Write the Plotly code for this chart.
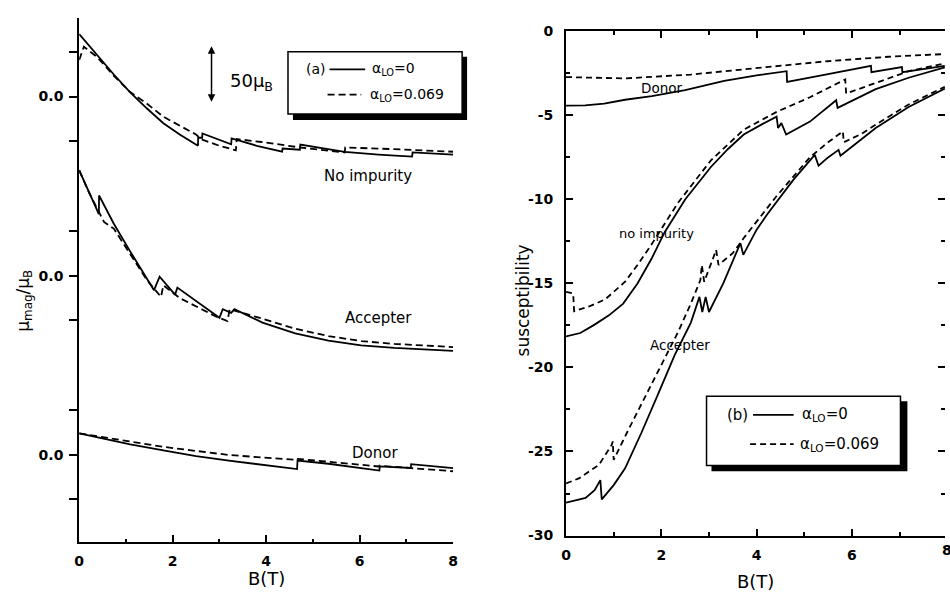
import plotly.graph_objects as go

W, H = 950, 599
FONT = "DejaVu Sans"

# ---------------- Panel (a): magnetic moment (muB, relative to each curve's 0.0) ----------------
A_OFFSETS = {"noimp": 0, "accepter": -160, "donor": -320}
A_YTICKS = [40, 0, -40, -120, -160, -200, -280, -320, -360]
A_YTICKTEXT = [" ", "0.0", " ", " ", "0.0", " ", " ", "0.0", " "]

a_noimp_solid_B = [0, 0.2, 0.39, 0.74, 1.09, 1.45, 1.8, 2.15, 2.54, 2.545, 2.63, 2.635, 3.25, 3.26, 3.8,
                   4.34, 4.35, 4.72, 4.73, 5.68, 6.4, 7.12, 7.13, 8.0]
a_noimp_solid_m = [55.9, 46.0, 37.0, 19.7, 3.8, -10.7, -23.8, -33.9, -44.0, -36.8, -36.8, -33.0, -42.6, -37.4, -44.0,
                   -49.3, -46.4, -47.5, -42.9, -49.5, -51.8, -53.6, -49.9, -51.9]
a_noimp_dash_B = [0, 0.1, 0.39, 0.74, 1.09, 1.45, 1.8, 2.15, 2.5, 2.6, 3.0, 3.35, 3.37, 3.9, 4.73, 5.68, 5.69, 6.74, 8.0]
a_noimp_dash_m = [32.8, 44.5, 35.0, 18.5, 4.0, -6.4, -18.0, -26.0, -33.9, -38.0, -44.0, -48.0, -38.0, -40.6, -45.5,
                  -49.9, -45.5, -47.0, -49.3]

a_acc_solid_B = [0, 0.2, 0.42, 0.425, 0.74, 1.09, 1.45, 1.6, 1.72, 2.05, 2.1, 2.5, 3.0, 3.07, 3.25, 3.32, 3.92,
                 4.62, 5.33, 6.03, 6.74, 8.0]
a_acc_solid_m = [94.2, 75.0, 55.0, 71.6, 46.4, 21.7, -2.9, -13.0, -0.9, -17.0, -10.7, -23.0, -37.7, -29.9, -33.3,
                 -29.9, -42.0, -51.6, -58.0, -62.3, -64.6, -67.2]
a_acc_dash_B = [0, 0.2, 0.42, 0.53, 0.74, 1.09, 1.45, 1.75, 1.8, 2.15, 2.9, 3.17, 3.22, 3.92, 4.62, 5.33, 6.03, 6.74, 8.0]
a_acc_dash_m = [94.0, 75.0, 57.0, 48.0, 42.0, 19.0, -4.0, -19.0, -8.7, -20.0, -36.0, -40.6, -30.0, -38.5, -47.5,
                -54.0, -58.5, -61.0, -63.8]

a_don_solid_B = [0, 0.5, 1.09, 1.8, 2.5, 3.2, 3.92, 4.66, 4.67, 5.33, 6.42, 6.43, 7.09, 7.1, 8.0]
a_don_solid_m = [19.1, 14.7, 9.3, 3.8, -1.2, -5.3, -9.0, -12.8, -5.2, -8.1, -14.2, -10.4, -11.9, -8.4, -11.9]
a_don_dash_B = [0, 0.6, 1.8, 3.21, 4.62, 4.64, 4.8, 6.03, 6.4, 6.42, 7.44, 8.0]
a_don_dash_m = [19.1, 15.0, 7.0, -0.3, -4.6, -3.6, -4.2, -9.0, -10.5, -9.8, -12.8, -14.8]

# ---------------- Panel (b): susceptibility ----------------
b_don_solid_B = [0, 0.4, 0.8, 1.24, 1.8, 2.5, 3.32, 4.0, 4.63, 4.64, 5.39, 6.4, 6.41, 7.05, 7.06, 7.95]
b_don_solid_chi = [-4.42, -4.40, -4.30, -4.07, -3.85, -3.50, -2.95, -2.62, -2.37, -3.01, -2.60, -2.05, -2.43,
                   -2.12, -2.43, -2.05]
b_don_dash_B = [0, 0.6, 1.24, 2.62, 4.0, 5.39, 6.77, 7.95]
b_don_dash_chi = [-2.72, -2.78, -2.80, -2.57, -2.18, -1.80, -1.51, -1.35]

b_noimp_solid_B = [0, 0.3, 0.6, 0.9, 1.2, 1.5, 1.8, 2.07, 2.5, 3.04, 3.4, 3.73, 4.1, 4.42, 4.45, 4.52, 4.62,
                   5.12, 5.67, 5.7, 6.5, 7.19, 7.95]
b_noimp_solid_chi = [-18.15, -17.95, -17.45, -16.9, -16.2, -15.0, -13.5, -11.95, -10.0, -8.07, -7.0, -6.14, -5.55,
                     -5.08, -5.75, -5.46, -6.14, -5.37, -4.10, -4.55, -3.44, -2.76, -2.15]
b_noimp_dash_B = [0, 0.15, 0.17, 0.5, 0.82, 1.24, 1.5, 1.79, 2.35, 3.04, 3.73, 4.42, 5.12, 5.86, 5.88, 6.5, 7.19, 7.95]
b_noimp_dash_chi = [-15.5, -15.6, -16.65, -16.35, -15.95, -14.9, -13.9, -12.7, -10.2, -7.68, -5.85, -4.79, -3.92,
                    -2.86, -3.7, -3.05, -2.37, -1.9]

b_acc_solid_B = [0, 0.41, 0.6, 0.72, 0.75, 1.0, 1.24, 1.58, 1.93, 2.28, 2.62, 2.8, 2.86, 2.93, 3.0, 3.3, 3.66,
                 3.72, 4.0, 4.22, 4.77, 5.22, 5.3, 5.5, 5.72, 5.76, 6.5, 7.19, 7.95]
b_acc_solid_chi = [-28.05, -27.76, -27.3, -26.7, -27.85, -27.0, -26.0, -23.9, -21.6, -19.27, -17.33, -15.8, -16.7,
                   -15.8, -16.7, -15.0, -12.6, -13.3, -11.8, -10.9, -8.84, -7.35, -8.0, -7.5, -7.05, -7.4, -5.75,
                   -4.5, -3.4]
b_acc_dash_B = [0, 0.27, 0.69, 0.96, 0.98, 1.0, 1.31, 1.66, 2.07, 2.35, 2.62, 2.82, 2.85, 2.9, 3.1, 3.15, 3.2, 3.5,
                3.73, 4.0, 4.42, 5.12, 5.5, 5.81, 5.83, 6.2, 6.5, 7.19, 7.95]
b_acc_dash_chi = [-26.9, -26.6, -25.8, -24.6, -24.4, -25.5, -23.7, -21.77, -19.46, -17.9, -16.2, -14.8, -13.9,
                  -14.9, -13.4, -13.0, -13.9, -13.2, -12.3, -11.3, -9.8, -7.49, -6.6, -5.95, -6.6, -6.1, -5.55,
                  -4.35, -3.3]

B_XTICKS = [0, 2, 4, 6, 8]
B_XMINOR = [1, 3, 5, 7]
B_YTICKS = [-30, -25, -20, -15, -10, -5, 0]
B_YMINOR = [-27.5, -22.5, -17.5, -12.5, -7.5, -2.5]

LEG_LABELS = ["α<sub>LO</sub>=0", "α<sub>LO</sub>=0.069"]

# ---------------- figure ----------------
def px(x):
    return x / W


def py(y):
    return 1 - y / H


fig = go.Figure()
DASH_A = "7px,4px"
DASH_B = "6px,4px"
LW = 1.8


def add_line(x, y, xa, ya, dash=None):
    fig.add_trace(go.Scatter(x=x, y=y, mode="lines", xaxis=xa, yaxis=ya,
                             line=dict(color="black", width=LW, dash=dash),
                             showlegend=False, hoverinfo="skip"))


def shift(vals, off):
    return [v + off for v in vals]


add_line(a_noimp_solid_B, shift(a_noimp_solid_m, A_OFFSETS["noimp"]), "x", "y")
add_line(a_noimp_dash_B, shift(a_noimp_dash_m, A_OFFSETS["noimp"]), "x", "y", DASH_A)
add_line(a_acc_solid_B, shift(a_acc_solid_m, A_OFFSETS["accepter"]), "x", "y")
add_line(a_acc_dash_B, shift(a_acc_dash_m, A_OFFSETS["accepter"]), "x", "y", DASH_A)
add_line(a_don_solid_B, shift(a_don_solid_m, A_OFFSETS["donor"]), "x", "y")
add_line(a_don_dash_B, shift(a_don_dash_m, A_OFFSETS["donor"]), "x", "y", DASH_A)

add_line(b_don_solid_B, b_don_solid_chi, "x2", "y2")
add_line(b_don_dash_B, b_don_dash_chi, "x2", "y2", DASH_B)
add_line(b_noimp_solid_B, b_noimp_solid_chi, "x2", "y2")
add_line(b_noimp_dash_B, b_noimp_dash_chi, "x2", "y2", DASH_B)
add_line(b_acc_solid_B, b_acc_solid_chi, "x2", "y2")
add_line(b_acc_dash_B, b_acc_dash_chi, "x2", "y2", DASH_B)
# empty trace so the right-hand tick axis is drawn
fig.add_trace(go.Scatter(x=[], y=[], xaxis="x2", yaxis="y3", showlegend=False, hoverinfo="skip"))

tickfont = dict(family=FONT, size=14, color="black", weight="bold")
common = dict(showgrid=False, zeroline=False, showline=True, linecolor="black", linewidth=2,
              tickcolor="black", tickwidth=1.5, tickfont=tickfont)

fig.update_layout(
    width=W, height=H, margin=dict(l=0, r=0, t=0, b=0),
    paper_bgcolor="white", plot_bgcolor="white", showlegend=False,
    font=dict(family=FONT, color="black"),
    xaxis=dict(domain=[px(75), px(453)], range=[0, 8], anchor="y", ticks="inside", ticklen=7,
               tickvals=B_XTICKS, ticklabelstandoff=5,
               minor=dict(ticks="inside", ticklen=3, tickwidth=1.5, tickcolor="black", tickvals=B_XMINOR),
               **common),
    yaxis=dict(domain=[py(549), py(10)], range=[-398.3, 70.43], anchor="x", ticks="outside", ticklen=8,
               tickvals=A_YTICKS, ticktext=A_YTICKTEXT, ticklabelstandoff=3, **common),
    xaxis2=dict(domain=[px(567), 1.0], range=[0, 7.954], anchor="y2", ticks="inside", ticklen=7,
                tickvals=B_XTICKS[:-1], mirror="ticks", ticklabelstandoff=6,
                minor=dict(ticks="inside", ticklen=4, tickwidth=1.5, tickcolor="black", tickvals=B_XMINOR),
                **common),
    yaxis2=dict(domain=[py(542), py(24)], range=[-30, 0], anchor="x2", ticks="inside", ticklen=7,
                tickvals=B_YTICKS, ticktext=[str(v) for v in B_YTICKS], ticklabelstandoff=8,
                minor=dict(ticks="inside", ticklen=4, tickwidth=1.5, tickcolor="black", tickvals=B_YMINOR),
                **common),
    yaxis3=dict(overlaying="y2", side="right", anchor="x2", range=[-30, 0], showline=False, showgrid=False,
                zeroline=False, ticks="inside", ticklen=7, tickwidth=1.5, tickcolor="black",
                tickvals=B_YTICKS, showticklabels=False,
                minor=dict(ticks="inside", ticklen=4, tickwidth=1.5, tickcolor="black", tickvals=B_YMINOR)),
)

ann = []


def T(x, y, text, size, xanchor="center", angle=0, weight="normal"):
    ann.append(dict(x=px(x), y=py(y), xref="paper", yref="paper", text=text, showarrow=False,
                    xanchor=xanchor, yanchor="middle", textangle=angle,
                    font=dict(family=FONT, size=size, color="black", weight=weight)))


# panel (a) texts
T(367, 173, "No impurity", 15)
T(377, 318, "Accepter", 15)
T(374, 457, "Donor", 15)
T(225, 76, "50μ<sub>B</sub>", 18, xanchor="left")
T(264, 586, "B(T)", 18)
T(20, 301, "μ<sub>mag</sub>/μ<sub>B</sub>", 17, angle=-90)
T(314, 63, "(a)", 14)
T(369, 63, LEG_LABELS[0], 14, xanchor="left")
T(367, 89, LEG_LABELS[1], 14, xanchor="left")

# panel (b) texts
T(663, 82, "Donor", 13.5)
T(658, 232, "no impurity", 13)
T(682, 346, "Accepter", 13.5)
T(758, 589, "B(T)", 18)
T(523, 300, "susceptibility", 17)
ann[-1]["textangle"] = -90
T(740, 418, "(b)", 15)
T(803, 418, LEG_LABELS[0], 15, xanchor="left")
T(801, 448, LEG_LABELS[1], 15, xanchor="left")
# partially visible last tick label at the cut edge
ann.append(dict(x=px(952), y=py(557), xref="paper", yref="paper", text="8", showarrow=False,
                xanchor="center", yanchor="middle", font=tickfont))

# 50 muB scale arrow (in data units)
ann.append(dict(x=2.83, y=45, ax=2.83, ay=-6, xref="x", yref="y", axref="x", ayref="y", text="",
                showarrow=True, arrowhead=2, startarrowhead=2, arrowside="end+start",
                arrowwidth=1.5, arrowsize=1, startarrowsize=1, arrowcolor="black"))

fig.update_layout(annotations=ann)

shapes = []


def R(x0, y0, x1, y1, fill, lw=0):
    shapes.append(dict(type="rect", xref="paper", yref="paper", x0=px(x0), x1=px(x1), y0=py(y1), y1=py(y0),
                       fillcolor=fill, line=dict(color="black", width=lw), layer="above"))


def L(x0, y, x1, dash=None):
    shapes.append(dict(type="line", xref="paper", yref="paper", x0=px(x0), x1=px(x1), y0=py(y), y1=py(y),
                       line=dict(color="black", width=LW, dash=dash), layer="above"))


# legend (a)
R(291, 50, 467, 115, "black")
R(286, 45, 462, 109, "white", 1.5)
L(328, 63, 364)
L(326, 89, 360, DASH_A)
# legend (b)
R(714, 404, 912, 476, "black")
R(709, 399, 905, 470, "white", 1.5)
L(756, 418, 797)
L(753, 448, 797, DASH_B)

fig.update_layout(shapes=shapes)

fig.write_html("out.html")
